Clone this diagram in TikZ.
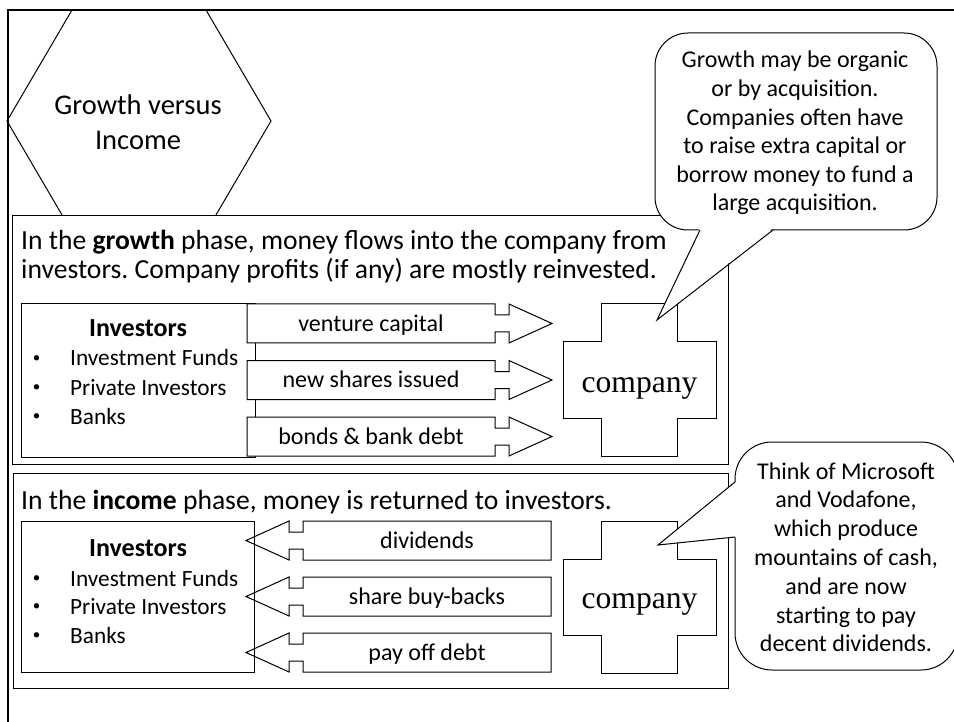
\documentclass[tikz,border=0pt]{standalone}
\usepackage{fontspec}
\setmainfont{Carlito}
\newfontfamily\coserif{Liberation Serif}
\frenchspacing
\begin{document}
\begin{tikzpicture}[x=1pt,y=-1pt,
  outline/.style={draw=black,line width=1pt,line join=miter},
  whitebox/.style={outline,fill=white},
  titletxt/.style={inner sep=0pt,anchor=base,font=\fontsize{28.5}{34}\selectfont},
  bodytxt/.style={inner sep=0pt,anchor=base west,font=\fontsize{27.6}{30}\selectfont},
  listtxt/.style={inner sep=0pt,anchor=base west,font=\fontsize{23.3}{28}\selectfont},
  bullettxt/.style={inner sep=0pt,anchor=center,font=\fontsize{15}{18}\selectfont},
  headtxt/.style={inner sep=0pt,anchor=base,font=\fontsize{26}{30}\selectfont\bfseries},
  flowtxt/.style={inner sep=0pt,anchor=base,font=\fontsize{24}{28}\selectfont},
  notetxt/.style={inner sep=0pt,anchor=base,font=\fontsize{24}{28}\selectfont},
  cotxt/.style={inner sep=0pt,anchor=base,font=\coserif\fontsize{31.6}{36}\selectfont},
  pics/plusbox/.style={code={
    \draw[whitebox] (-38,-76) -- (38,-76) -- (38,-38) -- (76.5,-38) -- (76.5,38)
      -- (38,38) -- (38,76) -- (-38,76) -- (-38,38) -- (-76.5,38) -- (-76.5,-38)
      -- (-38,-38) -- cycle;}},
  pics/flowarrow/.style={code={
    \draw[whitebox] (-124,-19.5) -- (124,-19.5) -- (124,-8.5) -- (138,-8.5)
      -- (138,-19.5) -- (181,0) -- (138,19.5) -- (138,8.5) -- (124,8.5)
      -- (124,19.5) -- (-124,19.5) -- cycle;}},
]
\useasboundingbox (0,0) rectangle (954,722);
\fill[white] (0,0) rectangle (954,722);

% title hexagon
\draw[outline] (72,10) -- (206,10) -- (271,121) -- (206,232) -- (72,232) -- (7,121) -- cycle;
\node[titletxt] (title1) at (138,115) {Growth versus};
\node[titletxt] (title2) at (138,150) {Income};

% phase panels
\draw[whitebox] (12,216) rectangle (728,464);
\draw[whitebox] (13,473) rectangle (728,688);

\node[bodytxt] (g1) at (21,250) {In the \textbf{growth} phase, money flows into the company from};
\node[bodytxt] (g2) at (21,279) {investors. Company profits (if any) are mostly reinvested.};
\node[bodytxt] (i1) at (21,509) {In the \textbf{income} phase, money is returned to investors.};

% growth phase: investors -> company
\draw[outline] (21,304) rectangle (255,457);
\node[headtxt] (gh) at (138,337) {Investors};
\foreach \t/\yy [count=\k] in {Investment Funds/366, Private Investors/395, Banks/424}{
  \node[bullettxt] (gb\k) at (36.5,\yy-7) {•};
  \node[listtxt] (gl\k) at (70,\yy) {\t};
}
\foreach \t/\yy [count=\k] in {venture capital/323.5, new shares issued/380, bonds \& bank debt/436.5}{
  \pic at (371,\yy) {flowarrow};
  \node[flowtxt] (gf\k) at (371,\yy+8) {\t};
}
\pic at (639.5,380) {plusbox};
\node[cotxt] (comp1) at (639.5,392) {company};

% income phase: company -> investors
\foreach \t/\yy [count=\k] in {dividends/540.5, share buy-backs/596.5, pay off debt/652.5}{
  \pic[xscale=-1] at (427,\yy) {flowarrow};
  \node[flowtxt] (if\k) at (427,\yy+8) {\t};
}
\draw[outline] (21,521) rectangle (254,672);
\node[headtxt] (ih) at (138,556) {Investors};
\foreach \t/\yy [count=\k] in {Investment Funds/586, Private Investors/614.5, Banks/643}{
  \node[bullettxt] (ib\k) at (36.5,\yy-7) {•};
  \node[listtxt] (il\k) at (70,\yy) {\t};
}
\pic at (639.5,597) {plusbox};
\node[cotxt] (comp2) at (639.5,608) {company};

% speech bubble on the growth panel
\coordinate (tip1) at (657,320);
\draw[whitebox,rounded corners=33] (655,33) rectangle (937,230);
\fill[white] (700,228) -- (tip1) -- (773,228) -- cycle;
\draw[outline] (700,230) -- (tip1) -- (773,230);
\foreach \t [count=\k] in {Growth may be organic, or by acquisition., Companies often have,
  to raise extra capital or, borrow money to fund a, large acquisition.}
  \node[notetxt] (na\k) at (795,{68+28.6*(\k-1)}) {\t};

% speech bubble on the income panel
\coordinate (tip2) at (658,545);
\draw[whitebox,rounded corners=37] (735,442) rectangle (958,670);
\fill[white] (736,482) -- (tip2) -- (736,537) -- cycle;
\draw[outline] (735,482) -- (tip2) -- (735,537);
\foreach \t [count=\k] in {Think of Microsoft, {and Vodafone,}, which produce,
  {mountains of cash,}, and are now, starting to pay, decent dividends.}
  \node[notetxt] (nb\k) at (846,{479+28.8*(\k-1)}) {\t};

% page frame
\draw[line width=2.5pt] (8,730) -- (8,10) -- (960,10);
\end{tikzpicture}
\end{document}
